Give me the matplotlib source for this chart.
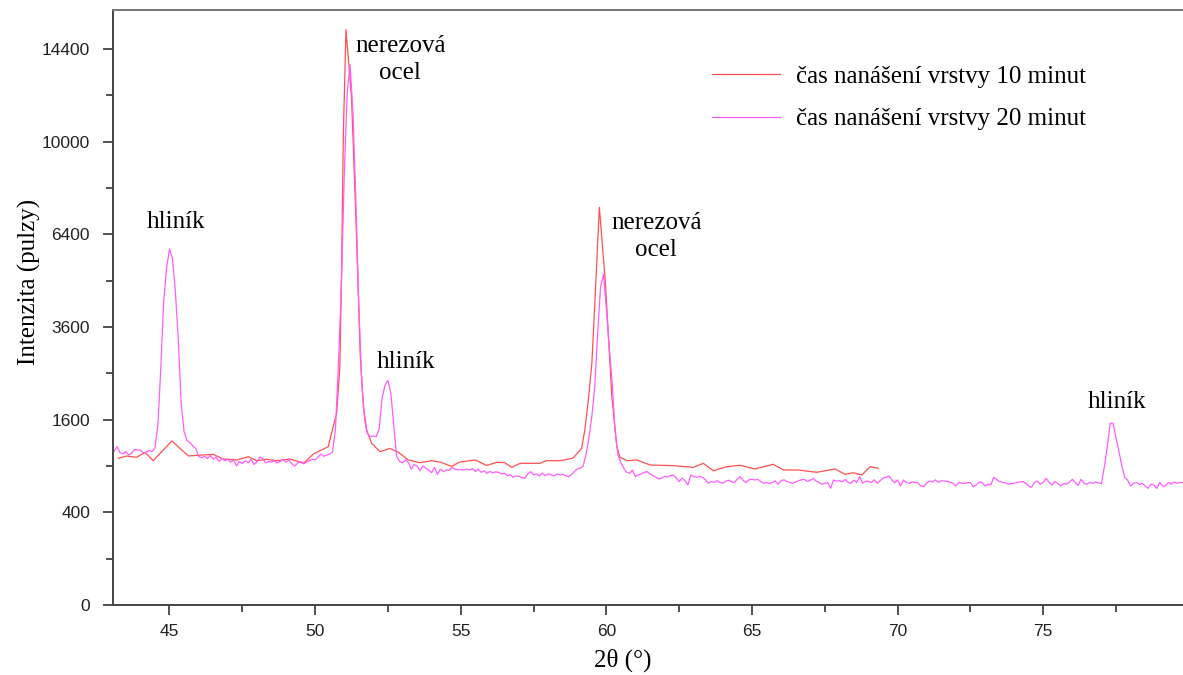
import numpy as np
import matplotlib
matplotlib.use("Agg")
import matplotlib.pyplot as plt

# 10 min deposition (red) - measured vertices
tt_10 = [43.24, 43.53, 43.87, 44.16, 44.44, 45.08, 45.65, 45.93, 46.50, 46.84,
         47.31, 47.71, 47.99, 48.34, 48.68, 49.14, 49.60, 49.94, 50.45, 50.74,
         50.85, 50.91, 50.97, 51.06, 51.25, 51.40, 51.55, 51.66, 51.77, 51.94,
         52.23, 52.57, 52.86, 53.20, 53.60, 54.00, 54.30, 54.69, 54.95, 55.50,
         55.89, 56.24, 56.50, 56.75, 57.04, 57.72, 57.94, 58.41, 58.85, 59.15,
         59.26, 59.38, 59.50, 59.56, 59.76, 59.96, 60.19, 60.36, 60.47, 60.72,
         61.04, 61.50, 62.30, 62.99, 63.33, 63.67, 64.13, 64.59, 65.10, 65.73,
         66.08, 66.59, 67.22, 67.85, 68.20, 68.48, 68.77, 69.06, 69.34]
int_10 = [1003, 1034, 1016, 1086, 970, 1253, 1034, 1043, 1057, 993,
          980, 1025, 970, 989, 970, 993, 935, 1062, 1168, 1717,
          2645, 5331, 10366, 15420, 12000, 7000, 2900, 1832, 1427, 1217,
          1095, 1140, 1086, 980, 943, 970, 950, 895, 950, 980,
          907, 948, 945, 883, 935, 935, 970, 970, 1003, 1140,
          1427, 1957, 2700, 3523, 7367, 4921, 2022, 1168, 1016, 970,
          980, 913, 904, 883, 935, 840, 891, 910, 862, 922,
          849, 849, 820, 862, 795, 815, 787, 891, 870]

# 20 min deposition (magenta) - scan 43.0..80.0 deg, step 0.1
tt_20 = np.round(np.arange(43.0, 80.05, 0.1), 1)
int_20 = [
    1076, 1098, 1168, 1080, 1062, 1098, 1048, 1076, 1130, 1119,   # 43
    1119, 1076, 1090, 1110, 1098, 1150, 1500, 2600, 4300, 5300,   # 44
    5900, 5600, 4600, 3300, 1900, 1400, 1260, 1230, 1180, 1140,   # 45
    1030, 1010, 1030, 1000, 1040, 990, 1020, 960, 1000, 970,      # 46
    990, 950, 980, 900, 960, 930, 970, 940, 990, 920,             # 47
    950, 1020, 1000, 940, 960, 950, 970, 940, 960, 990,           # 48
    950, 980, 930, 900, 940, 960, 930, 950, 970, 990,             # 49
    980, 1020, 1060, 1030, 1048, 1060, 1090, 1450, 2700, 4700,    # 50
    8600, 12200, 13600, 11300, 7600, 4200, 2300, 1600, 1360, 1320,  # 51
    1330, 1320, 1450, 2000, 2250, 2350, 2090, 1500, 1030, 960,    # 52
    940, 980, 950, 860, 920, 900, 840, 900, 870, 850,             # 53
    815, 880, 795, 860, 830, 850, 845, 880, 860, 850,             # 54
    855, 850, 860, 850, 866, 830, 860, 820, 840, 808,             # 55
    830, 815, 825, 820, 800, 810, 779, 790, 760, 775,             # 56
    770, 755, 747, 800, 828, 790, 800, 775, 810, 780,             # 57
    800, 790, 775, 800, 790, 795, 780, 767, 790, 830,             # 58
    860, 870, 900, 1050, 1300, 1650, 2200, 3400, 4700, 5100,      # 59
    4100, 3100, 2300, 1400, 1050, 940, 870, 820, 808, 849,        # 60
    767, 790, 800, 820, 828, 800, 780, 760, 740, 750,             # 61
    770, 760, 780, 787, 750, 708, 750, 720, 671, 787,             # 62
    770, 760, 770, 760, 730, 690, 710, 700, 720, 700,             # 63
    690, 715, 725, 705, 700, 740, 767, 720, 700, 730,             # 64
    735, 728, 735, 710, 690, 700, 686, 700, 716, 680,             # 65
    720, 730, 710, 700, 690, 705, 720, 730, 736, 710,             # 66
    725, 747, 715, 700, 680, 690, 700, 634, 728, 715,             # 67
    720, 705, 735, 700, 690, 725, 700, 767, 690, 715,             # 68
    710, 700, 730, 690, 720, 750, 760, 775, 730, 695,             # 69
    728, 660, 728, 700, 690, 705, 700, 695, 660, 651,             # 70
    695, 715, 705, 730, 700, 720, 715, 712, 705, 690,             # 71
    660, 700, 690, 690, 697, 700, 650, 670, 705, 700,             # 72
    660, 680, 670, 760, 735, 710, 700, 695, 680, 685,             # 73
    690, 700, 705, 710, 690, 660, 645, 700, 715, 680,             # 74
    700, 747, 700, 670, 710, 690, 660, 690, 680, 700,             # 75
    736, 700, 665, 736, 690, 680, 700, 690, 705, 695,             # 76
    685, 891, 1168, 1537, 1540, 1300, 1100, 900, 760, 725,        # 77
    660, 690, 700, 675, 690, 660, 634, 680, 670, 634,             # 78
    700, 660, 660, 700, 680, 705, 690, 700, 697, 690,             # 79
    700,                                                          # 80
]

y_ticks = [0, 400, 1600, 3600, 6400, 10000, 14400]
y_minor = [100, 900, 2500, 4900, 8100, 12100]
x_ticks = [45, 50, 55, 60, 65, 70, 75]
x_minor = [47.5, 52.5, 57.5, 62.5, 67.5, 72.5, 77.5]

labels = [("hliník", 45.22, 6834), ("nerezová\nocel", 52.92, 13850),
          ("hliník", 53.12, 2751), ("nerezová\nocel", 61.71, 6330),
          ("hliník", 77.54, 1920)]

serif = "Liberation Serif"
sans = "Liberation Sans"

fig = plt.figure(figsize=(11.83, 6.75), dpi=100)
ax = fig.add_axes([113 / 1183, 70 / 675, 1070 / 1183, 595 / 675])

ax.plot(tt_10, int_10, color="#ff5050", lw=0.9, label="čas nanášení vrstvy 10 minut")
ax.plot(tt_20, int_20, color="#ff5cff", lw=0.9, label="čas nanášení vrstvy 20 minut")

ax.set_yscale("function", functions=(lambda v: np.sqrt(np.clip(v, 0, None)), np.square))
ax.set_ylim(0, 16490)
ax.set_xlim(43.06, 79.8)
ax.set_yticks(y_ticks)
ax.set_yticks(y_minor, minor=True)
ax.set_yticklabels([str(t) for t in y_ticks])
ax.set_xticks(x_ticks)
ax.set_xticks(x_minor, minor=True)
ax.set_xticklabels([str(t) for t in x_ticks])

for lab in ax.get_xticklabels() + ax.get_yticklabels():
    lab.set_fontfamily(sans)
    lab.set_fontsize(12.5)
    lab.set_color("#222222")

ax.tick_params(which="major", direction="out", length=7.5, width=1.2, color="#333333")
ax.tick_params(axis="y", which="major", pad=9)
ax.tick_params(axis="x", which="major", pad=6)
ax.tick_params(which="minor", direction="out", length=5, width=1.2, color="#333333")
for side in ["left", "bottom", "top"]:
    ax.spines[side].set_linewidth(1.4)
    ax.spines[side].set_color("#444444")
ax.spines["top"].set_color("#777777")
ax.spines["right"].set_visible(False)

ax.set_ylabel("Intenzita (pulzy)", fontfamily=serif, fontsize=18)
ax.yaxis.set_label_coords(-0.067, 0.543)
ax.set_xlabel("2θ (°)", fontfamily=serif, fontsize=18)
ax.xaxis.set_label_coords(0.476, -0.074)

for text, x, y in labels:
    ax.text(x, y, text, fontfamily=serif, fontsize=18, ha="center", va="center",
            linespacing=1.3)

ax.legend(loc="upper left", bbox_to_anchor=(0.56, 0.907), frameon=False,
          prop={"family": serif, "size": 18}, handlelength=2.7, handletextpad=0.65,
          borderpad=0, borderaxespad=0, labelspacing=0.8)

plt.savefig("out.png", dpi=100)
